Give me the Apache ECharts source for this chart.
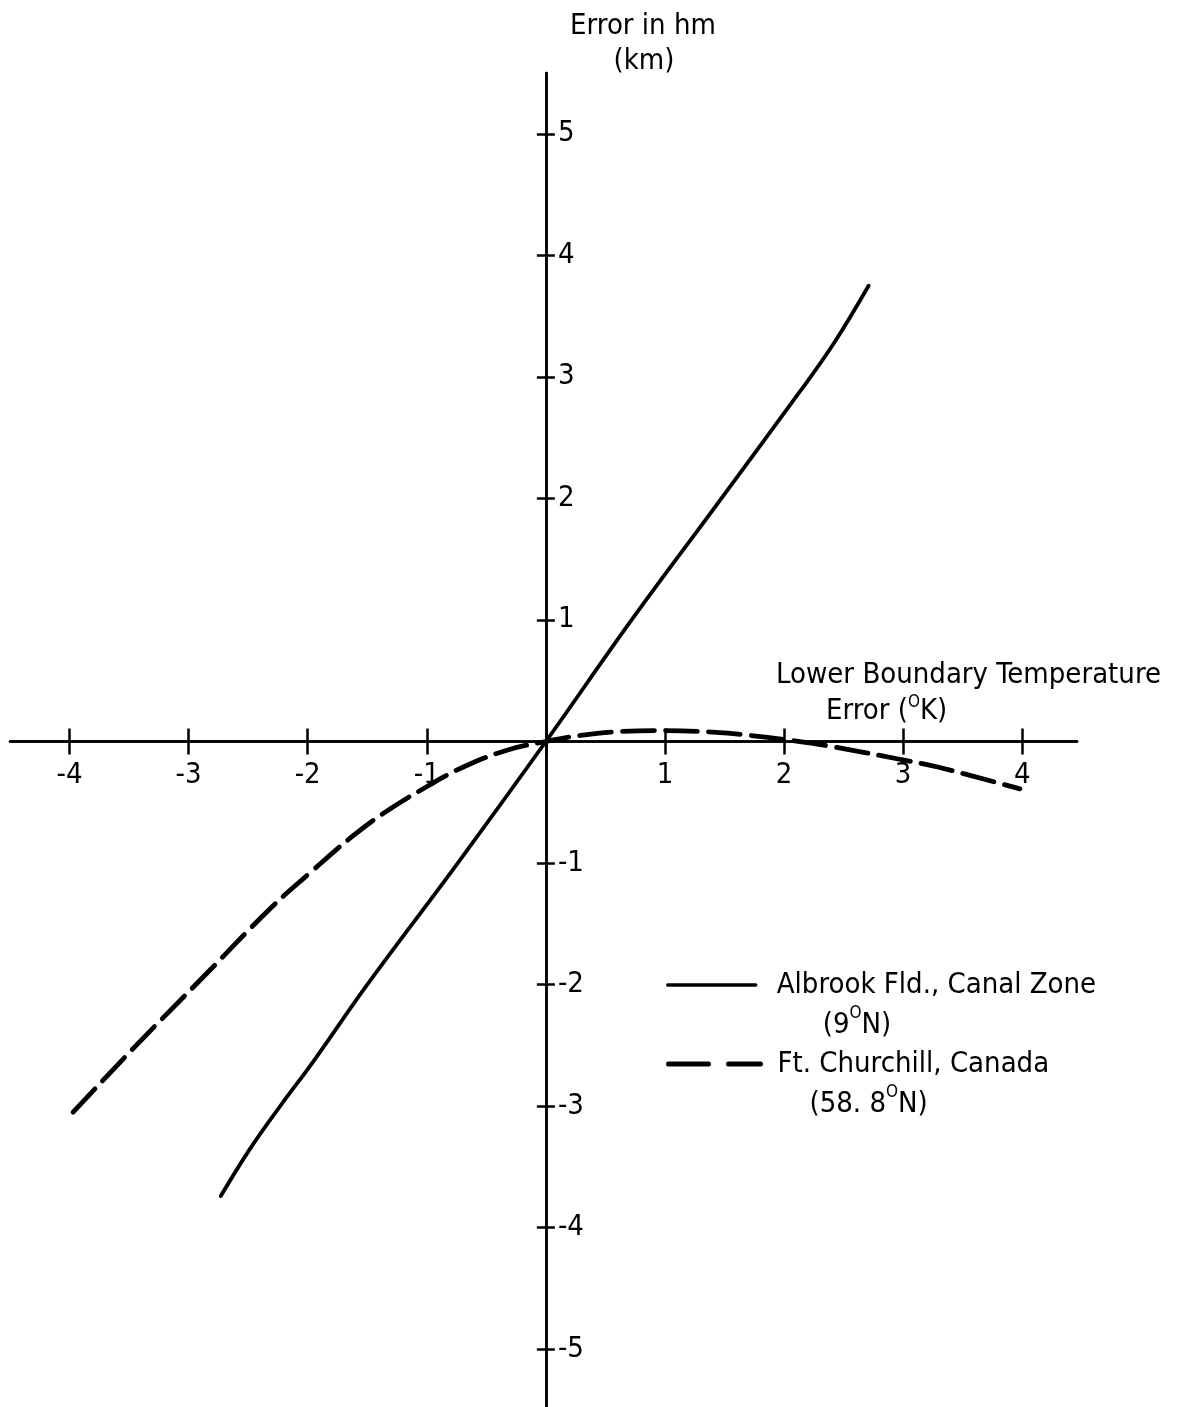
<!DOCTYPE html>
<html>
<head>
<meta charset="utf-8">
<script src="https://cdn.jsdelivr.net/npm/echarts@6/dist/echarts.min.js"></script>
<style>
  html, body { margin: 0; padding: 0; background: #fff; }
  #chart { width: 1180px; height: 1407px; }
</style>
</head>
<body>
<div id="chart"></div>
<script>
// Tick positions on both axes
const xTicks = [-4, -3, -2, -1, 0, 1, 2, 3, 4];
const yTicks = [-5, -4, -3, -2, -1, 0, 1, 2, 3, 4, 5];

// Albrook Fld., Canal Zone (9°N): error in hm (km) vs lower boundary temperature error (°K)
const albrookX = [-2.73, -2.49, -2.235, -1.955, -1.50, -0.74, 0, 0.72, 1.406, 2.134, 2.414, 2.71];
const albrookY = [-3.74, -3.36, -3.005, -2.635, -2.00, -1.00, 0, 1.00, 1.91, 2.88, 3.27, 3.75];

// Ft. Churchill, Canada (58.8°N)
const churchillX = [-3.97, -3.45, -2.88, -2.31, -1.98, -1.65, -1.37, -0.98, -0.67, -0.32, 0,
                    0.29, 0.59, 1.00, 1.43, 1.67, 2.09, 2.39, 2.99, 3.29, 3.98];
const churchillY = [-3.05, -2.51, -1.94, -1.37, -1.08, -0.80, -0.595, -0.36, -0.20, -0.07, 0,
                    0.05, 0.08, 0.09, 0.075, 0.055, 0.005, -0.04, -0.15, -0.21, -0.39];

const seriesNames = ['Albrook Fld., Canal Zone', 'Ft. Churchill, Canada'];
const seriesNotes = ['(9{s|O}N)', '(58. 8{s|O}N)'];

const FONT = "'DejaVu Sans Condensed', 'Liberation Sans Narrow', 'Liberation Sans', sans-serif";
const FS = 29;
const INK = '#000';

// Plot area and axis extents
const W = 1180, H = 1407;
const GRID = { left: 10, right: 103, top: 73, bottom: -3 };
const X_EXT = [-4.5, 4.46];
const Y_EXT = [-5.5, 5.5];
const plotW = W - GRID.left - GRID.right;
const plotH = H - GRID.top - GRID.bottom;
// Pixel position of the origin, so the axes can cross there
const x0px = GRID.left + (0 - X_EXT[0]) / (X_EXT[1] - X_EXT[0]) * plotW;
const y0px = GRID.top + (Y_EXT[1] - 0) / (Y_EXT[1] - Y_EXT[0]) * plotH;

const pairs = (xs, ys) => xs.map((x, i) => [x, ys[i]]);
const tickLabel = v => (v === 0 ? '' : String(v));

const lineStyle = { color: INK, width: 2.5 };

// Each axis is drawn twice (ticks outward, then inward) so the ticks cross the line
function xAxisCfg(tickInside, withLabels) {
  return {
    type: 'value', position: 'bottom', offset: -(GRID.top + plotH - y0px),
    min: X_EXT[0], max: X_EXT[1],
    axisLine: { onZero: false, lineStyle },
    axisTick: { show: true, inside: tickInside, length: 13, lineStyle, customValues: xTicks },
    axisLabel: {
      show: withLabels, customValues: xTicks, formatter: tickLabel, margin: 19,
      fontFamily: FONT, fontSize: FS, color: INK
    },
    splitLine: { show: false }
  };
}

function yAxisCfg(tickInside, withLabels) {
  return {
    type: 'value', position: 'left', offset: -(x0px - GRID.left),
    min: Y_EXT[0], max: Y_EXT[1],
    axisLine: { onZero: false, lineStyle },
    axisTick: { show: true, inside: tickInside, length: 9, lineStyle, customValues: yTicks },
    axisLabel: {
      show: withLabels, inside: true, customValues: yTicks, formatter: tickLabel, margin: 12,
      fontFamily: FONT, fontSize: FS, color: INK
    },
    splitLine: { show: false }
  };
}

const richCommon = {
  s: { fontFamily: FONT, fontSize: 17, lineHeight: 22, verticalAlign: 'top', color: INK },
  i0: { width: 46 },
  i1: { width: 32 }
};

function legendCfg(idx, top, iconWidth, textPad, lineStyle) {
  return {
    data: [seriesNames[idx]],
    orient: 'vertical', left: 666, top, padding: 0,
    selectedMode: false,
    itemWidth: iconWidth, itemHeight: 14,
    itemStyle: { opacity: 0 },
    lineStyle,
    formatter: name => name + '\n{i' + idx + '| }' + seriesNotes[idx],
    textStyle: {
      fontFamily: FONT, fontSize: FS, color: INK, lineHeight: 40,
      padding: [40, 0, 0, textPad],
      rich: richCommon
    }
  };
}

const chart = echarts.init(document.getElementById('chart'), null, { renderer: 'canvas' });

chart.setOption({
  backgroundColor: '#fff',
  animation: false,
  grid: Object.assign({ containLabel: false, outerBoundsMode: 'none' }, GRID),
  xAxis: [xAxisCfg(false, true), xAxisCfg(true, false)],
  yAxis: [yAxisCfg(false, true), yAxisCfg(true, false)],
  legend: [
    legendCfg(0, 925, 88, 16, { color: INK, width: 3.5, type: 'solid' }),
    legendCfg(1, 1004, 92, 12, { color: INK, width: 5, type: [40, 20], cap: 'round' })
  ],
  graphic: [
    {
      type: 'text', x: 643, y: 26,
      style: { text: 'Error in hm', fontFamily: FONT, fontSize: FS, fill: INK, align: 'center', verticalAlign: 'middle' }
    },
    {
      type: 'text', x: 644, y: 61,
      style: { text: '(km)', fontFamily: FONT, fontSize: FS, fill: INK, align: 'center', verticalAlign: 'middle' }
    },
    {
      type: 'text', x: 776, y: 675,
      style: { text: 'Lower Boundary Temperature', fontFamily: FONT, fontSize: FS, fill: INK, align: 'left', verticalAlign: 'middle' }
    },
    {
      type: 'text', x: 826, y: 711,
      style: {
        text: 'Error ({s|O}K)', fontFamily: FONT, fontSize: FS, lineHeight: 34, fill: INK,
        align: 'left', verticalAlign: 'middle',
        rich: { s: { fontFamily: FONT, fontSize: 17, lineHeight: 22, verticalAlign: 'top', fill: INK } }
      }
    }
  ],
  series: [
    {
      name: seriesNames[0], type: 'line', xAxisIndex: 0, yAxisIndex: 0,
      data: pairs(albrookX, albrookY),
      symbol: 'none', smooth: 0.4,
      lineStyle: { color: INK, width: 3.8, cap: 'round' },
      itemStyle: { color: INK }
    },
    {
      name: seriesNames[1], type: 'line', xAxisIndex: 0, yAxisIndex: 0,
      data: pairs(churchillX, churchillY),
      symbol: 'none', smooth: 0.4,
      lineStyle: { color: INK, width: 4.8, type: [32, 11], cap: 'round' },
      itemStyle: { color: INK }
    },
    {
      // binds the inward-tick axes so they are laid out and drawn; carries no data
      name: 'tick-axes', type: 'line', xAxisIndex: 1, yAxisIndex: 1,
      data: [], symbol: 'none', silent: true
    }
  ]
});
</script>
</body>
</html>
